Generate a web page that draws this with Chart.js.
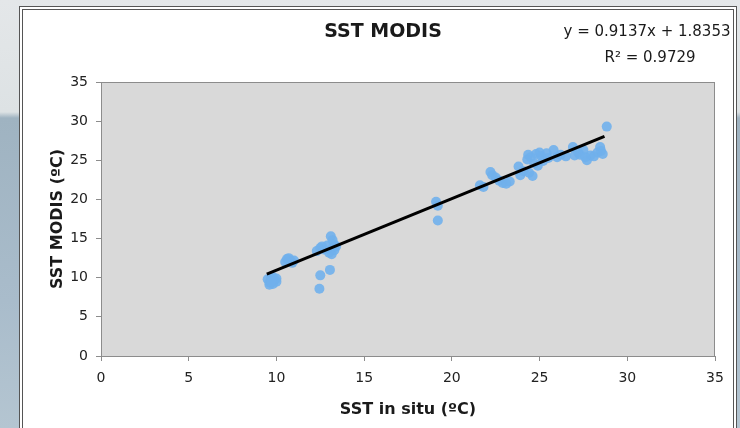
<!DOCTYPE html>
<html>
<head>
<meta charset="utf-8">
<script src="https://cdn.jsdelivr.net/npm/chart.js@4"></script>
<style>
  html, body { margin: 0; padding: 0; }
  body {
    width: 740px; height: 428px; overflow: hidden; position: relative;
    background: linear-gradient(to bottom, #e4e7e9 0px, #dde2e4 112px, #9fb3c1 118px, #a9bccb 300px, #b4c5d1 428px);
  }
  #frame {
    position: absolute; left: 19px; top: 6px; width: 710px; height: 440px;
    background: #fff; border: 4px double #555;
  }
  #wrap { position: absolute; left: 0; top: 0; width: 740px; height: 428px; }
</style>
</head>
<body>
<div id="frame"></div>
<div id="wrap"><canvas id="chart" width="740" height="428"></canvas></div>
<script>
// in situ vs MODIS sea surface temperature (ºC)
var insitu = [9.5, 9.6, 9.7, 9.8, 9.9, 10.0, 9.6, 9.8, 10.0, 9.7,
    10.5, 10.6, 10.8, 10.9, 10.7, 11.0,
    12.3, 12.5, 12.6, 12.7, 12.5, 12.45, 13.05, 13.1, 13.2, 13.2, 13.0, 13.3, 13.15, 13.3, 12.9, 13.4,
    19.1, 19.2, 19.2,
    21.6, 21.8, 22.2, 22.3, 22.5, 22.7, 22.9, 23.1, 23.3,
    23.9, 23.8, 24.1, 24.3, 24.35, 24.5, 24.6, 24.7, 24.8, 25.0, 25.1, 25.2, 24.4, 25.4, 25.5, 24.9,
    25.8, 26.0, 26.2, 26.5, 26.9, 27.0, 27.2, 27.3, 27.5, 27.7, 27.9, 28.1, 28.3, 28.45, 28.5, 28.6, 28.83, 27.6];
var modis = [9.8, 9.4, 10.0, 9.2, 9.7, 9.5, 9.1, 10.1, 9.9, 9.5,
    12.0, 12.4, 12.2, 11.9, 12.5, 12.2,
    13.4, 13.8, 14.0, 13.6, 10.3, 8.6, 11.0, 15.3, 14.8, 13.8, 13.2, 14.2, 13.0, 13.5, 14.1, 14.0,
    19.7, 19.2, 17.3,
    21.8, 21.6, 23.5, 23.1, 22.8, 22.4, 22.1, 22.0, 22.3,
    23.1, 24.2, 23.6, 25.1, 25.7, 25.4, 23.0, 24.6, 25.8, 26.0, 25.5, 24.9, 23.4, 25.9, 25.3, 24.3,
    26.3, 25.4, 25.7, 25.5, 26.7, 25.6, 26.0, 25.7, 26.3, 25.0, 25.6, 25.5, 26.0, 26.7, 26.2, 25.8, 29.3, 25.4];

// linear trend line end points
var trendX = [9.45, 28.7];
var trendY = [10.47, 28.06];

var xTicks = [0, 5, 10, 15, 20, 25, 30, 35];
var yTicks = [0, 5, 10, 15, 20, 25, 30, 35];

var titleText = 'SST MODIS';
var eqText = 'y = 0.9137x + 1.8353';
var r2Text = 'R² = 0.9729';

var points = insitu.map(function (x, i) { return {x: x, y: modis[i]}; });
var trend = trendX.map(function (x, i) { return {x: x, y: trendY[i]}; });

var plotBox = {
    id: 'plotBox',
    beforeDraw: function (chart) {
        var a = chart.chartArea, ctx = chart.ctx;
        ctx.save();
        ctx.fillStyle = '#d9d9d9';
        ctx.fillRect(a.left, a.top, a.right - a.left, a.bottom - a.top);
        ctx.strokeStyle = '#8c8c8c';
        ctx.lineWidth = 1;
        ctx.strokeRect(a.left + 0.5, a.top + 0.5, a.right - a.left - 1, a.bottom - a.top);
        ctx.restore();
    },
    afterDraw: function (chart) {
        var ctx = chart.ctx;
        ctx.save();
        ctx.fillStyle = '#1a1a1a';
        ctx.textBaseline = 'middle';
        ctx.textAlign = 'center';
        ctx.font = 'bold 19px "DejaVu Sans"';
        ctx.fillText(titleText, 383, 32);
        ctx.font = '15px "DejaVu Sans"';
        ctx.fillText(eqText, 647, 32);
        ctx.fillText(r2Text, 650, 58);
        ctx.restore();
    }
};

var tickFont = {family: 'DejaVu Sans', size: 14};
var titleFont = {family: 'DejaVu Sans', size: 16, weight: 'bold'};

new Chart(document.getElementById('chart'), {
    type: 'scatter',
    data: {
        datasets: [{
            type: 'line',
            data: trend,
            borderColor: '#000',
            borderWidth: 3,
            pointRadius: 0,
            fill: false,
            order: 0
        }, {
            data: points,
            backgroundColor: 'rgba(112,176,236,0.9)',
            borderWidth: 0,
            pointRadius: 5,
            order: 1
        }]
    },
    options: {
        responsive: false,
        animation: false,
        layout: {padding: {left: 0, right: 25, top: 82, bottom: 0}},
        plugins: {legend: {display: false}, tooltip: {enabled: false}},
        scales: {
            x: {
                type: 'linear',
                min: 0, max: 35,
                afterBuildTicks: function (s) { s.ticks = xTicks.map(function (v) { return {value: v}; }); },
                afterFit: function (s) { s.height = 72; },
                grid: {drawOnChartArea: false, tickLength: 5, color: '#8c8c8c'},
                border: {color: '#8c8c8c'},
                ticks: {font: tickFont, color: '#222', padding: 9, maxRotation: 0},
                title: {display: true, text: 'SST in situ (ºC)', font: titleFont, color: '#1a1a1a', padding: {top: 0, bottom: 9}}
            },
            y: {
                min: 0, max: 35,
                afterBuildTicks: function (s) { s.ticks = yTicks.map(function (v) { return {value: v}; }); },
                afterFit: function (s) { s.width = 101; },
                grid: {drawOnChartArea: false, tickLength: 5, color: '#8c8c8c'},
                border: {color: '#8c8c8c'},
                ticks: {font: tickFont, color: '#222', padding: 8},
                title: {display: true, text: 'SST MODIS (ºC)', font: titleFont, color: '#1a1a1a', padding: {top: 48, bottom: 0}}
            }
        }
    },
    plugins: [plotBox]
});
</script>
</body>
</html>
